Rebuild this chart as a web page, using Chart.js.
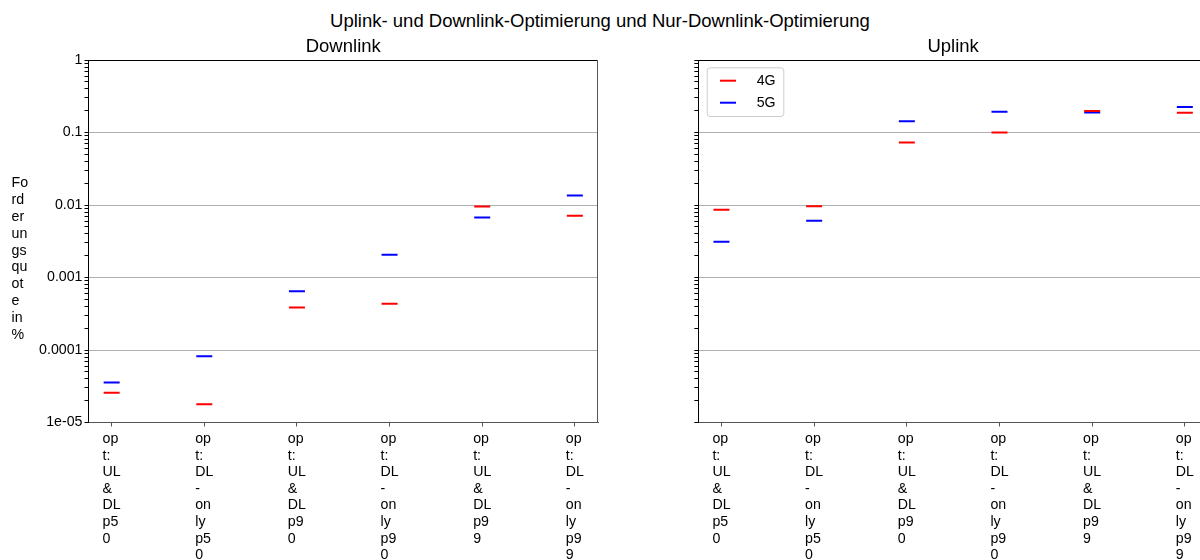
<!DOCTYPE html>
<html>
<head>
<meta charset="utf-8">
<script src="https://cdn.jsdelivr.net/npm/chart.js@4.4.1/dist/chart.umd.min.js"></script>
<style>
  body { margin: 0; width: 1200px; height: 560px; overflow: hidden; position: relative; background: #fff; }
  #suptitle { position: absolute; left: 0; top: 9.7px; width: 1200px; text-align: center; font-family: "Liberation Sans", Arial, sans-serif; font-size: 18.5px; line-height: 22px; color: #000; }
  #dlWrap { position: absolute; left: 0; top: 0; width: 600px; height: 560px; }
  #ulWrap { position: absolute; left: 600px; top: 0; width: 610px; height: 560px; }
</style>
</head>
<body>
<div id="suptitle">Uplink- und Downlink-Optimierung und Nur-Downlink-Optimierung</div>
<div id="dlWrap"><canvas id="dlChart" width="600" height="560"></canvas></div>
<div id="ulWrap"><canvas id="ulChart" width="610" height="560"></canvas></div>
<script>
/**
 * Downlink / Uplink rates per optimisation case, 4G vs 5G (log scale)
 */

const CATEGORIES = [
  "opt: UL & DL p50",
  "opt: DL-only p50",
  "opt: UL & DL p90",
  "opt: DL-only p90",
  "opt: UL & DL p99",
  "opt: DL-only p99"
];
const SERIES_LABELS = ["4G", "5G"];
const SERIES_COLORS = ["#ff0000", "#0000ff"];

const DOWNLINK_4G = [2.57e-5, 1.79e-5, 3.85e-4, 4.33e-4, 9.5e-3, 7.1e-3];
const DOWNLINK_5G = [3.57e-5, 8.2e-5, 6.48e-4, 2.06e-3, 6.7e-3, 1.35e-2];
const UPLINK_4G = [8.6e-3, 9.6e-3, 0.073, 0.1, 0.198, 0.187];
const UPLINK_5G = [3.12e-3, 6.08e-3, 0.1425, 0.194, 0.188, 0.224];

const Y_TICK_VALUES = [1e-5, 1e-4, 1e-3, 1e-2, 1e-1, 1];
const Y_TICK_LABELS = ["1e-05", "0.0001", "0.001", "0.01", "0.1", "1"];
const Y_AXIS_LABEL = "Forderungsquote in %";

const FONT_FAMILY = '"Liberation Sans", Arial, sans-serif';
const TICK_SIZE = 14.2;
const TICK_FONT = TICK_SIZE + "px " + FONT_FAMILY;

/**
 * Break a label into the very narrow lines of the original (2 chars each).
 */
function wrapChunks(text) {
  const lines = [];
  text.split(" ").forEach((word) => {
    word.split(/(-)/).filter((p) => p !== "").forEach((part) => {
      for (let i = 0; i < part.length; i += 2) {
        lines.push(part.slice(i, i + 2));
      }
    });
  });
  return lines;
}

/**
 * Decade ticks plus 2..9 minor ticks for the log axis.
 */
function buildLogTicks(scale) {
  const ticks = [];
  for (let e = -5; e <= 0; e++) {
    for (let m = 1; m <= 9; m++) {
      const v = m * Math.pow(10, e);
      if (v > 1.0000001) break;
      ticks.push({ value: v, major: m === 1 });
    }
  }
  scale.ticks = ticks;
}

function yLabelFor(value) {
  const idx = Y_TICK_VALUES.findIndex((t) => Math.abs(t - value) / t < 1e-6);
  return idx >= 0 ? Y_TICK_LABELS[idx] : "";
}

// Frame, panel title, x labels, y label and legend
const panelDecor = {
  id: "panelDecor",
  afterDraw(chart, args, opts) {
    const { ctx, chartArea } = chart;
    const xScale = chart.scales.x;
    ctx.save();

    // top border
    ctx.lineWidth = 1;
    ctx.strokeStyle = "#000";
    ctx.beginPath();
    ctx.moveTo(chartArea.left, chartArea.top + 0.5);
    ctx.lineTo(chartArea.right, chartArea.top + 0.5);
    ctx.stroke();

    // right border
    ctx.strokeStyle = "#555";
    ctx.beginPath();
    ctx.moveTo(chartArea.right - 0.5, chartArea.top);
    ctx.lineTo(chartArea.right - 0.5, chartArea.bottom);
    ctx.stroke();

    // panel title
    ctx.fillStyle = "#000";
    ctx.font = "18.5px " + FONT_FAMILY;
    ctx.textAlign = "center";
    ctx.textBaseline = "middle";
    ctx.fillText(opts.title, (chartArea.left + chartArea.right) / 2, chartArea.top - 13.3);

    // category labels, left aligned block centred on the tick
    ctx.font = TICK_FONT;
    ctx.textAlign = "left";
    CATEGORIES.forEach((cat, i) => {
      const lines = wrapChunks(cat);
      const widest = Math.max(...lines.map((l) => ctx.measureText(l).width));
      const x0 = xScale.getPixelForValue(i) - widest / 2;
      lines.forEach((line, k) => {
        ctx.fillText(line, x0, chartArea.bottom + 16.5 + k * 16.6);
      });
    });

    // y axis label, written horizontally in narrow lines
    if (opts.yLabel) {
      wrapChunks(opts.yLabel).forEach((line, k) => {
        ctx.fillText(line, 11.5, chartArea.top + 123.3 + k * 16.85);
      });
    }

    // legend box inside the panel
    if (opts.legend) {
      const bx = chartArea.left + 8.4;
      const by = chartArea.top + 7.3;
      const bw = 76.6;
      const bh = 48.7;
      ctx.fillStyle = "rgba(255,255,255,0.8)";
      ctx.strokeStyle = "#cccccc";
      ctx.lineWidth = 1;
      ctx.beginPath();
      ctx.roundRect(bx + 0.5, by + 0.5, bw, bh, 3);
      ctx.fill();
      ctx.stroke();
      chart.data.datasets.forEach((ds, k) => {
        const ly = by + 13.4 + k * 22;
        ctx.strokeStyle = ds.borderColor;
        ctx.lineWidth = 2;
        ctx.beginPath();
        ctx.moveTo(bx + 13.3, ly);
        ctx.lineTo(bx + 29.3, ly);
        ctx.stroke();
        ctx.fillStyle = "#000";
        ctx.fillText(ds.label, bx + 50, ly);
      });
    }

    ctx.restore();
  }
};

function makeDatasets(values4G, values5G) {
  return [values4G, values5G].map((vals, s) => ({
    label: SERIES_LABELS[s],
    data: vals.map((v, i) => ({ x: i, y: v })),
    showLine: false,
    pointStyle: "line",
    pointRadius: 8,
    pointHoverRadius: 8,
    pointBorderWidth: 2,
    borderColor: SERIES_COLORS[s],
    backgroundColor: SERIES_COLORS[s]
  }));
}

function makeChart(canvasId, values4G, values5G, yAxisWidth, decor) {
  const CTX = document.getElementById(canvasId).getContext("2d");
  return new Chart(CTX, {
    type: "scatter",
    data: { datasets: makeDatasets(values4G, values5G) },
    options: {
      responsive: false,
      animation: false,
      events: [],
      layout: { autoPadding: false, padding: { top: 60, right: 2, left: 0, bottom: 0 } },
      plugins: {
        legend: { display: false },
        tooltip: { enabled: false },
        panelDecor: decor
      },
      scales: {
        x: {
          type: "linear",
          min: -0.25,
          max: 5.25,
          afterBuildTicks: (scale) => {
            scale.ticks = CATEGORIES.map((c, i) => ({ value: i }));
          },
          afterFit: (scale) => { scale.height = 137.5; },
          ticks: { callback: () => "", autoSkip: false },
          grid: { drawOnChartArea: false, tickLength: 4, tickColor: "#555" },
          border: { color: "#555", width: 1 }
        },
        y: {
          type: "logarithmic",
          min: 1e-5,
          max: 1,
          afterBuildTicks: buildLogTicks,
          afterFit: (scale) => { scale.width = yAxisWidth; },
          ticks: {
            autoSkip: false,
            padding: 2,
            color: "#000",
            font: { family: FONT_FAMILY, size: TICK_SIZE },
            callback: (value) => (decor.yLabel ? yLabelFor(value) : "")
          },
          grid: {
            color: (c) => (c.tick && c.tick.major ? "#b0b0b0" : "rgba(0,0,0,0)"),
            lineWidth: 1,
            tickLength: 4,
            tickColor: "#000"
          },
          border: { color: "#000", width: 1 }
        }
      }
    },
    plugins: [panelDecor]
  });
}

makeChart("dlChart", DOWNLINK_4G, DOWNLINK_5G, 88.5, { title: "Downlink", yLabel: Y_AXIS_LABEL, legend: false });
makeChart("ulChart", UPLINK_4G, UPLINK_5G, 98.3, { title: "Uplink", yLabel: null, legend: true });
</script>
</body>
</html>
